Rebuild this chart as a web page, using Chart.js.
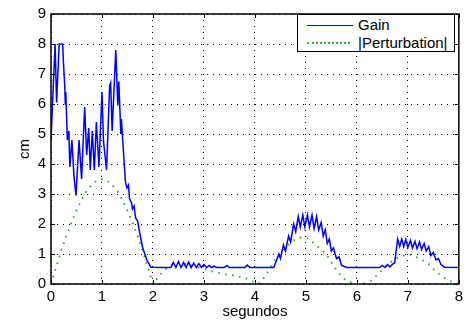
<!DOCTYPE html>
<html>
<head>
<meta charset="utf-8">
<script src="https://cdn.jsdelivr.net/npm/chart.js@4/dist/chart.umd.min.js"></script>
<style>
  body { margin: 0; background: #fff; }
  #wrap { position: relative; width: 467px; height: 325px; }
  #legend {
    position: absolute; left: 297px; top: 14px; width: 156px; height: 36px;
    border: 1px solid #000; background: #fff;
    font-family: 'Liberation Sans', Arial, sans-serif; font-size: 15px; color: #000;
  }
  .leg-row { position: absolute; left: 0; height: 18px; line-height: 18px; }
  .leg-line { position: absolute; left: 9px; width: 46px; }
  .leg-text { position: absolute; left: 60px; white-space: nowrap; }
</style>
</head>
<body>
<div id="wrap">
  <canvas id="chart" width="467" height="325"></canvas>
  <div id="legend">
    <div class="leg-row" style="top:1px">
      <div class="leg-line" style="top:9px;border-top:1px solid #0000ff"></div>
      <span class="leg-text">Gain</span>
    </div>
    <div class="leg-row" style="top:19px">
      <div class="leg-line" style="top:8px;border-top:2px dotted #3aa83a;width:43px"></div>
      <span class="leg-text">|Perturbation|</span>
    </div>
  </div>
</div>
<script>
// ─── DATA ─────────────────────────────────────────────────────────────────
const X_TICKS = [0, 1, 2, 3, 4, 5, 6, 7, 8];
const Y_TICKS = [0, 1, 2, 3, 4, 5, 6, 7, 8, 9];

const gainT = [
  0, 0.08, 0.11, 0.16, 0.23, 0.24, 0.27, 0.28, 0.29, 0.32, 0.35, 0.37, 0.41, 0.45, 0.49,
  0.55, 0.60, 0.66, 0.70, 0.74, 0.77, 0.81, 0.85, 0.89, 0.94, 1.00, 1.03, 1.09, 1.15, 1.17,
  1.20, 1.27, 1.31, 1.33, 1.37, 1.38, 1.46, 1.49, 1.52, 1.54, 1.58, 1.60, 1.63, 1.66, 1.70,
  1.74, 1.80, 1.88, 1.96, 2.30,
  2.35, 2.40, 2.45, 2.50, 2.55, 2.60, 2.65, 2.70, 2.75, 2.80, 2.85, 2.90, 2.95, 3.00, 3.05,
  3.10, 3.15, 3.20, 3.25, 3.40, 3.45, 3.50, 3.80, 3.85, 3.90, 4.37,
  4.47, 4.50, 4.56, 4.60, 4.66, 4.70, 4.76, 4.80, 4.85, 4.89, 4.94, 4.98, 5.03, 5.07, 5.12,
  5.16, 5.21, 5.25, 5.30, 5.34, 5.38, 5.42, 5.46, 5.50, 5.54, 5.60, 5.65, 5.70, 5.80,
  6.45, 6.50, 6.55, 6.60, 6.65, 6.70, 6.74,
  6.80, 6.84, 6.88, 6.92, 6.96, 7.00, 7.05, 7.09, 7.14, 7.18, 7.23, 7.27, 7.32, 7.36, 7.41,
  7.45, 7.50, 7.55, 7.60, 7.65, 7.72, 8.00
];
const gainV = [
  4.8, 8.0, 6.05, 8.0, 8.0, 7.5, 6.6, 6.0, 6.4, 4.8, 5.1, 3.9, 4.8, 3.6, 2.95,
  4.8, 3.5, 5.9, 4.3, 5.2, 3.8, 5.1, 3.8, 5.4, 3.9, 6.4, 4.75, 3.8, 6.6, 6.7,
  5.1, 7.8, 5.95, 6.75, 5.0, 5.5, 3.4, 3.2, 3.3, 2.85, 2.7, 2.5, 2.6, 2.2, 2.1,
  1.7, 1.2, 0.8, 0.56, 0.55,
  0.55, 0.72, 0.55, 0.75, 0.55, 0.72, 0.55, 0.73, 0.55, 0.70, 0.55, 0.68, 0.55, 0.65, 0.55,
  0.62, 0.55, 0.60, 0.55, 0.55, 0.62, 0.55, 0.55, 0.63, 0.55, 0.55,
  1.0, 0.85, 1.3, 1.1, 1.6, 1.4, 2.0, 1.75, 2.25, 1.9, 2.3, 1.9, 2.3, 1.9, 2.3,
  1.85, 2.25, 1.8, 2.05, 1.6, 1.8, 1.35, 1.5, 1.1, 1.2, 0.85, 0.9, 0.62, 0.55,
  0.55, 0.62, 0.55, 0.65, 0.57, 0.66, 0.7,
  1.5, 1.25, 1.5, 1.25, 1.48, 1.22, 1.45, 1.2, 1.42, 1.18, 1.4, 1.15, 1.35, 1.1, 1.25,
  0.95, 1.05, 0.8, 0.85, 0.65, 0.56, 0.55
];

const pertT = [
  0, 0.1, 0.2, 0.3, 0.4, 0.5, 0.6, 0.7, 0.8, 0.9, 1.0, 1.1, 1.2, 1.3, 1.4, 1.5, 1.6, 1.7, 1.8, 1.9, 2.0,
  2.1, 2.2, 2.3, 2.4, 2.5, 2.6, 2.7, 2.8, 2.9, 3.0, 3.1, 3.2, 3.3, 3.4, 3.5, 3.6, 3.7, 3.8, 3.9, 4.0, 4.05,
  4.1, 4.2, 4.3, 4.4, 4.5, 4.6, 4.7, 4.8, 4.9, 5.0, 5.1, 5.2, 5.3, 5.4, 5.5, 5.6, 5.7, 5.8, 5.9, 6.0,
  6.1, 6.2, 6.3, 6.4, 6.5, 6.6, 6.7, 6.8, 6.9, 7.0, 7.1, 7.2, 7.3, 7.4, 7.5, 7.6, 7.7, 7.8, 7.9, 8.0
];
const pertV = [
  0, 0.55, 1.1, 1.6, 2.05, 2.45, 2.8, 3.1, 3.3, 3.45, 3.5, 3.45, 3.3, 3.1, 2.8, 2.45, 2.05, 1.6, 1.1, 0.55, 0,
  0.22, 0.42, 0.58, 0.66, 0.7, 0.68, 0.64, 0.6, 0.55, 0.5, 0.46, 0.4, 0.36, 0.33, 0.3, 0.28, 0.24, 0.2, 0.14, 0.04, 0,
  0.05, 0.25, 0.55, 0.82, 1.0, 1.2, 1.38, 1.5, 1.55, 1.55, 1.45, 1.28, 1.15, 1.0, 0.72, 0.45, 0.25, 0.1, 0.04, 0,
  0, 0.05, 0.13, 0.3, 0.48, 0.65, 0.78, 0.87, 0.93, 1.0, 0.95, 0.87, 0.78, 0.68, 0.5, 0.35, 0.22, 0.12, 0.05, 0
];

const FONT = "'Liberation Sans', Arial, sans-serif";

function toPoints(ts, vs) { return ts.map((t, i) => ({ x: t, y: vs[i] })); }

// marco negro y marcas interiores estilo MATLAB
const framePlugin = {
  id: 'frame',
  afterDraw(chart) {
    const { ctx, chartArea: a, scales } = chart;
    ctx.save();
    ctx.strokeStyle = '#000';
    ctx.lineWidth = 1;
    X_TICKS.forEach(v => {
      const px = Math.round(scales.x.getPixelForValue(v)) + 0.5;
      ctx.beginPath();
      ctx.moveTo(px, a.bottom); ctx.lineTo(px, a.bottom - 4);
      ctx.moveTo(px, a.top); ctx.lineTo(px, a.top + 4);
      ctx.stroke();
    });
    Y_TICKS.forEach(v => {
      const py = Math.round(scales.y.getPixelForValue(v)) + 0.5;
      ctx.beginPath();
      ctx.moveTo(a.left, py); ctx.lineTo(a.left + 4, py);
      ctx.moveTo(a.right, py); ctx.lineTo(a.right - 4, py);
      ctx.stroke();
    });
    ctx.lineWidth = 1.5;
    ctx.strokeRect(a.left, a.top, a.right - a.left, a.bottom - a.top);
    ctx.restore();
  }
};

new Chart(document.getElementById('chart'), {
  type: 'line',
  data: {
    datasets: [
      {
        label: 'Gain',
        data: toPoints(gainT, gainV),
        borderColor: '#0000ff',
        borderWidth: 1.5,
        pointRadius: 0,
        tension: 0
      },
      {
        label: '|Perturbation|',
        data: toPoints(pertT, pertV),
        borderColor: '#2a9a2a',
        borderWidth: 1.8,
        borderDash: [1.5, 5.5],
        pointRadius: 0,
        tension: 0
      }
    ]
  },
  options: {
    responsive: false,
    animation: false,
    layout: { padding: { top: 8, right: 6, left: 0, bottom: 0 } },
    plugins: { legend: { display: false }, tooltip: { enabled: false } },
    scales: {
      x: {
        type: 'linear', min: 0, max: 8,
        afterFit: s => { s.height = 41; },
        afterBuildTicks: s => { s.ticks = X_TICKS.map(v => ({ value: v })); },
        ticks: { color: '#000', font: { family: FONT, size: 15 }, padding: 4, maxRotation: 0 },
        grid: { color: '#000', lineWidth: 1, drawTicks: false },
        border: { display: false, dash: [1, 5] },
        title: { display: true, text: 'segundos', color: '#000', font: { family: FONT, size: 15 }, padding: { top: 0, bottom: 4 } }
      },
      y: {
        min: 0, max: 9,
        afterFit: s => { s.width = 51; },
        afterBuildTicks: s => { s.ticks = Y_TICKS.map(v => ({ value: v })); },
        ticks: { color: '#000', font: { family: FONT, size: 15 }, padding: 5 },
        grid: { color: '#000', lineWidth: 1, drawTicks: false },
        border: { display: false, dash: [1, 5] },
        title: { display: true, text: 'cm', color: '#000', font: { family: FONT, size: 15 }, padding: { top: 16, bottom: 0 } }
      }
    }
  },
  plugins: [framePlugin]
});
</script>
</body>
</html>
